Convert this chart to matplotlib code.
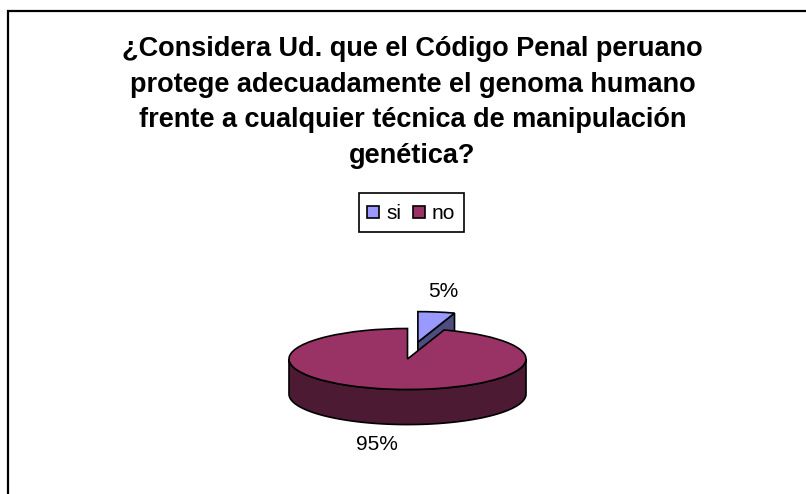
# -*- coding: utf-8 -*-

import numpy as np
import matplotlib
matplotlib.use("Agg")
import matplotlib.pyplot as plt

plt.rcParams['font.family'] = ['Liberation Sans', 'DejaVu Sans']

labels = ["si", "no"]
values = [5, 95]
pct_labels = ["5%", "95%"]
colors = ["#9999FF", "#993366"]
side_colors = ["#4D4D80", "#4C1A33"]
title = (u"¿Considera Ud. que el Código Penal peruano\n"
         u"protege adecuadamente el genoma humano\n"
         u"frente a cualquier técnica de manipulación\n"
         u"genética?")

W, H = 806, 494
fig = plt.figure(figsize=(W / 100, H / 100), dpi=100)

# outer chart frame, runs off the bottom and right of the picture
bg = fig.add_axes([0, 0, 1, 1])
bg.set_xlim(0, W)
bg.set_ylim(H, 0)
bg.axis("off")
bg.plot([8, 8, W], [H, 11.5, 11.5], color="k", lw=1.6, solid_joinstyle="miter")

fig.text(412.5 / W, 1 - 102.5 / H, title, ha="center", va="center", fontsize=19.5,
         fontweight="bold", linespacing=1.47)

# pie axes: one data unit is rx px wide and ry px high
rx, ry, depth = 118.5, 30.5, 1.15
cx, cy = 407.5, 359
x_half, y_top, y_bot = 1.25, 2.0, 3.0
ax = fig.add_axes([(cx - x_half * rx) / W, 1 - (cy + y_bot * ry) / H,
                   2 * x_half * rx / W, (y_top + y_bot) * ry / H])

explode = [0.56, 0]
angle = 2 * np.pi * values[0] / sum(values)
dx = explode[0] * np.sin(angle / 2)
dy = explode[0] * np.cos(angle / 2)

# side of the small slice sits behind the big one
ex, ey = dx + np.sin(angle), dy + np.cos(angle)
ax.fill([dx, ex, ex, dx], [dy, ey, ey - depth, dy - depth],
        facecolor=side_colors[0], edgecolor="k", lw=1.2, zorder=1)

# rim of the big slice
t = np.linspace(np.pi / 2, 3 * np.pi / 2, 120)
rim_x = np.sin(t)
rim_y = np.cos(t)
ax.fill(np.r_[rim_x, rim_x[::-1]], np.r_[rim_y, rim_y[::-1] - depth],
        facecolor=side_colors[1], edgecolor="k", lw=1.2, zorder=3)

wedges, _ = ax.pie(values, explode=explode, colors=colors, startangle=90,
                   counterclock=False, radius=1,
                   wedgeprops=dict(edgecolor="k", linewidth=1.2))
wedges[0].set_zorder(2)
wedges[1].set_zorder(4)

ax.set_aspect("auto")
ax.set_xlim(-x_half, x_half)
ax.set_ylim(-y_bot, y_top)
ax.axis("off")

fig.text(443.5 / W, 1 - 291.5 / H, pct_labels[0], ha="center", va="center", fontsize=15)
fig.text(376.5 / W, 1 - 444.5 / H, pct_labels[1], ha="center", va="center", fontsize=15)

# legend
fig.patches.append(plt.Rectangle((359 / W, 1 - 232.5 / H), 105 / W, 39.5 / H,
                                 transform=fig.transFigure, facecolor="w",
                                 edgecolor="k", lw=1.2))
for name, col, sx, tx in zip(labels, colors, [367, 413], [386, 432]):
    fig.patches.append(plt.Rectangle((sx / W, 1 - 218 / H), 12 / W, 12 / H,
                                     transform=fig.transFigure, facecolor=col,
                                     edgecolor="k", lw=1.2))
    fig.text(tx / W, 1 - 213 / H, name, ha="left", va="center", fontsize=15)

fig.savefig("out.png", dpi=100)
